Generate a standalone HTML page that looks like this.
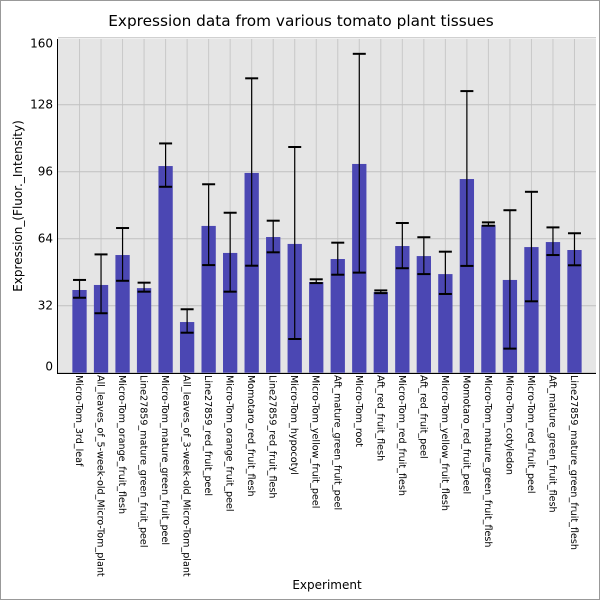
<!DOCTYPE html>
<html><head><meta charset="utf-8">
<style>
html,body{margin:0;padding:0;background:#fff;}
svg{display:block;font-family:"DejaVu Sans","Liberation Sans",sans-serif;}
</style></head>
<body>
<svg id="chart" width="600" height="600">
<rect x="0.5" y="0.5" width="599" height="599" fill="#fff" stroke="#999"/>
<text x="301" y="26" text-anchor="middle" font-size="15.3" fill="#000">Expression data from various tomato plant tissues</text>
<rect x="58" y="39" width="538" height="334" fill="#e5e5e5"/>
<g id="grid"></g><g id="bars"></g><g id="errs"></g><g id="yticks"></g><g id="xlabels"></g>
<line x1="57.5" y1="39" x2="57.5" y2="373.5" stroke="#000"/>
<line x1="57" y1="373.5" x2="596" y2="373.5" stroke="#000"/>
<text x="327" y="589" text-anchor="middle" font-size="12">Experiment</text>
<text transform="translate(22,206) rotate(-90)" text-anchor="middle" font-size="12">Expression_(Fluor._Intensity)</text>
</svg>
<script>
const categories=["Micro-Tom_3rd_leaf","All_leaves_of_5-week-old_Micro-Tom_plant","Micro-Tom_orange_fruit_flesh","Line27859_mature_green_fruit_peel","Micro-Tom_mature_green_fruit_peel","All_leaves_of_3-week-old_Micro-Tom_plant","Line27859_red_fruit_peel","Micro-Tom_orange_fruit_peel","Momotaro_red_fruit_flesh","Line27859_red_fruit_flesh","Micro-Tom_hypocotyl","Micro-Tom_yellow_fruit_peel","Aft_mature_green_fruit_peel","Micro-Tom_root","Aft_red_fruit_flesh","Micro-Tom_red_fruit_flesh","Aft_red_fruit_peel","Micro-Tom_yellow_fruit_flesh","Momotaro_red_fruit_peel","Micro-Tom_mature_green_fruit_flesh","Micro-Tom_cotyledon","Micro-Tom_red_fruit_peel","Aft_mature_green_fruit_flesh","Line27859_mature_green_fruit_flesh"];
const values=[39.5,41.9,56.2,40.4,98.7,24.2,70.1,57.2,95.4,64.8,61.5,43.3,54.3,99.7,38.5,60.5,55.7,47.1,92.5,70.5,44.3,60,62.4,58.6];
const errHigh=[44.3,56.5,69.1,43,109.5,30.3,90,76.4,140.6,72.6,107.8,44.6,62.1,152.3,39.3,71.5,64.7,57.8,134.5,71.8,77.6,86.4,69.4,66.6];
const errLow=[35.8,28.4,43.9,38.7,88.8,19.1,51.4,38.7,51.1,57.5,16.1,42.8,46.8,47.8,38.0,49.9,47.1,37.6,51,70.2,11.5,34.1,56.2,51.3];
const yTicks=[0,32,64,96,128,160];
const NS="http://www.w3.org/2000/svg";
const L=58,R=596,B=372.7,ppu=67/32;
const y=v=>B-v*ppu;
const slot=(R-L)/(categories.length+1);
const x=i=>L+slot*(i+1);
function mk(tag,attrs,parent){const e=document.createElementNS(NS,tag);for(const k in attrs)e.setAttribute(k,attrs[k]);document.getElementById(parent).appendChild(e);return e;}
categories.forEach((c,i)=>{
  const g=mk('line',{x1:x(i),x2:x(i),y1:39,y2:373,stroke:'#c8c8c8','stroke-width':1},'grid');
  
  
});
yTicks.forEach((t,i)=>{
  const g=mk('line',{x1:L,x2:R,y1:y(t),y2:y(t),stroke:'#c0c0c0','stroke-width':1},'grid');
  
  
  let ly=y(t)+4;
  if(i===0) ly=y(t)-2;
  if(i===yTicks.length-1) ly=y(t)+10;
  const tx=mk('text',{x:53,y:ly,'text-anchor':'end','font-size':12},'yticks');
  tx.textContent=t;
  
  
});
const bw=14.3;
values.forEach((v,i)=>{
  const r=mk('rect',{x:x(i)-bw/2,y:y(v),width:bw,height:B-y(v),fill:'#4b47b3'},'bars');
  
  
  const cx=x(i);
  const ln=mk('line',{x1:cx,x2:cx,y1:y(errHigh[i]),y2:y(errLow[i]),stroke:'#000','stroke-width':1.2},'errs');
  
  
  [errHigh[i],errLow[i]].forEach(e=>{
    const cp=mk('line',{x1:cx-6.5,x2:cx+6.5,y1:y(e),y2:y(e),stroke:'#000','stroke-width':2},'errs');
    
    
  });
  const t=mk('text',{transform:`translate(${cx-3.5},375) rotate(90)`,'font-size':9.6},'xlabels');
  t.textContent=categories[i];
  
  
});
</script>
</body></html>
